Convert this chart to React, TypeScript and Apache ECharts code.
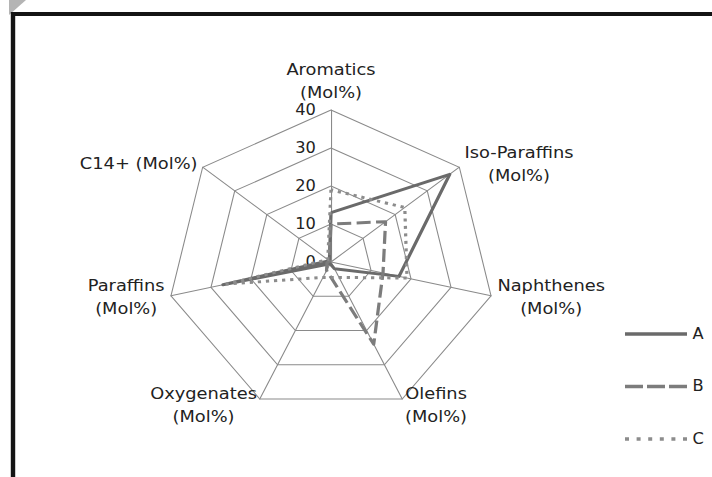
import React, { useEffect, useRef } from "react";
import * as echarts from "echarts";

// Indicators listed clockwise from the top, as in the reference
const indicatorNames = [
  "Aromatics\n(Mol%)",
  "Iso-Paraffins\n(Mol%)",
  "Naphthenes\n(Mol%)",
  "Olefins\n(Mol%)",
  "Oxygenates\n(Mol%)",
  "Paraffins\n(Mol%)",
  "C14+ (Mol%)",
];
const axisMin = 0;
const axisMax = 40;
const axisSplits = 4;

const seriesNames = ["A", "B", "C"];
const valuesA = [13, 37, 17, 2, 0.5, 27, 0.5];
const valuesB = [10, 17, 13, 24, 2.5, 1, 0.5];
const valuesC = [19, 23, 19, 4.5, 4.5, 26, 1];

const FONT = "DejaVu Sans";

// The reference picture is stretched horizontally; reproduce that aspect.
const STRETCH = 1.08;
const ORIGIN_X = 331;
const sx = (x: number) => ORIGIN_X + (x - ORIGIN_X) / STRETCH;

export default function App() {
  const ref = useRef<HTMLDivElement>(null);

  useEffect(() => {
    if (!ref.current) return;
    const chart = echarts.init(ref.current, undefined, { renderer: "svg" });

    // ECharts lays radar indicators out counter-clockwise; reorder to get clockwise
    const order = [0, 6, 5, 4, 3, 2, 1];
    const reorder = (arr: any[]) => order.map((i) => arr[i]);

    const indicator = reorder(indicatorNames).map((name: string, i: number) => {
      const ind: any = { name, min: axisMin, max: axisMax };
      if (i === 0) {
        ind.axisLabel = {
          show: true,
          fontSize: 15,
          fontFamily: FONT,
          color: "#222",
          margin: 14,
        };
      }
      return ind;
    });

    const colors = ["#6a6a6a", "#7c7c7c", "#8c8c8c"];
    const lineTypes: any[] = ["solid", [13, 5], [3, 4.5]];
    const allValues = [valuesA, valuesB, valuesC];

    const icons = [
      "path://M0,0h62v4h-62z",
      "path://M0,0h18v4h-18z M22,0h18v4h-18z M44,0h18v4h-18z",
      "path://M0,0h4v4h-4z M11.6,0h4v4h-4z M23.2,0h4v4h-4z M34.8,0h4v4h-4z M46.4,0h4v4h-4z M58,0h4v4h-4z",
    ];

    chart.setOption({
      animation: false,
      backgroundColor: "#ffffff",
      textStyle: { fontFamily: FONT },
      graphic: [
        {
          type: "polygon",
          shape: { points: [[sx(9), 0], [sx(26), 0], [sx(9), 15]] },
          style: { fill: "#b4b4b4" },
          silent: true,
        },
        {
          type: "rect",
          shape: { x: sx(13), y: 14, width: 760, height: 520 },
          style: { fill: "none", stroke: "#141414", lineWidth: 4.1 },
          silent: true,
        },
      ],
      legend: {
        orient: "vertical",
        left: sx(625),
        top: 324,
        padding: 0,
        itemWidth: 62 / STRETCH,
        itemHeight: 4,
        itemGap: 32.5,
        selectedMode: false,
        textStyle: { fontSize: 15, color: "#222", fontFamily: FONT, lineHeight: 20 },
        data: seriesNames.map((n, i) => ({
          name: n,
          icon: icons[i],
          itemStyle: { color: colors[i], borderWidth: 0 },
        })),
      },
      radar: {
        center: [ORIGIN_X, 262],
        radius: 152,
        startAngle: 90,
        shape: "polygon",
        splitNumber: axisSplits,
        nameGap: 6,
        indicator,
        axisName: {
          color: "#222",
          fontFamily: FONT,
          fontSize: 16.5,
          formatter: (name: string) =>
            name
              .split("\n")
              .map((l) => `{c|${l}}`)
              .join("\n"),
          rich: {
            c: {
              align: "center",
              fontSize: 16.5,
              fontFamily: FONT,
              color: "#222",
              lineHeight: 23,
            },
          },
        },
        axisLine: { lineStyle: { color: "#8a8a8a", width: 1 } },
        splitLine: { lineStyle: { color: "#8a8a8a", width: 1 } },
        splitArea: { show: false },
        axisTick: { show: false },
        axisLabel: { show: false },
      },
      series: [
        {
          type: "radar",
          symbol: "none",
          data: seriesNames.map((n, i) => ({
            name: n,
            value: reorder(allValues[i]),
            lineStyle: { color: colors[i], width: 3, type: lineTypes[i] },
            itemStyle: { color: colors[i] },
          })),
        },
      ],
    });

    return () => chart.dispose();
  }, []);

  return (
    <div
      ref={ref}
      style={{
        position: "absolute",
        left: 0,
        top: 0,
        width: 712,
        height: 477,
        transform: `scaleX(${STRETCH})`,
        transformOrigin: `${ORIGIN_X}px 0px`,
      }}
    />
  );
}
